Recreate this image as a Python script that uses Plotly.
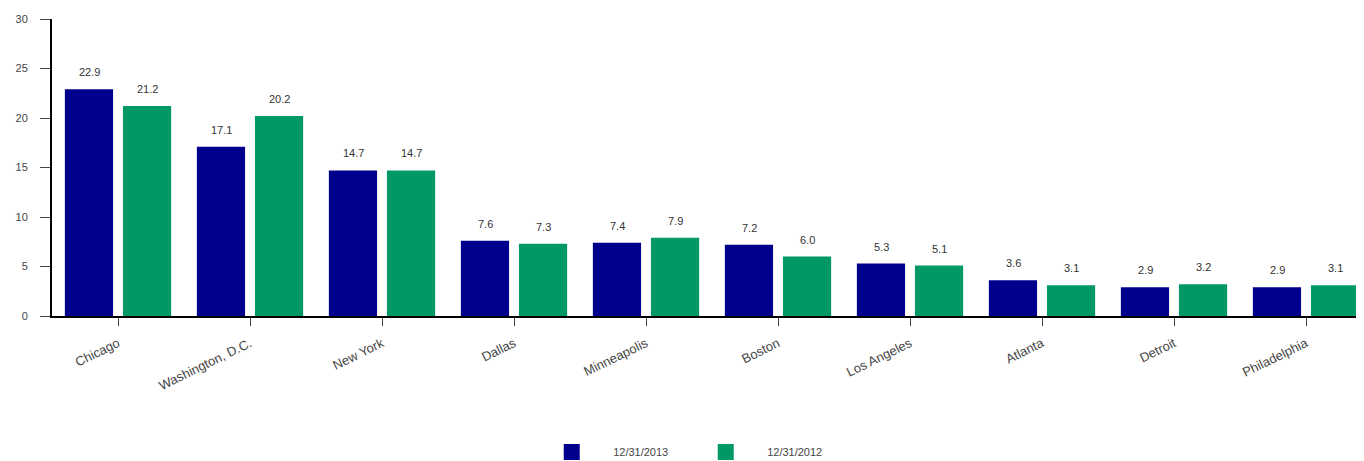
import plotly.graph_objects as go

cities = ["Chicago", "Washington, D.C.", "New York", "Dallas", "Minneapolis",
          "Boston", "Los Angeles", "Atlanta", "Detroit", "Philadelphia"]
v2013 = [22.9, 17.1, 14.7, 7.6, 7.4, 7.2, 5.3, 3.6, 2.9, 2.9]
v2012 = [21.2, 20.2, 14.7, 7.3, 7.9, 6.0, 5.1, 3.1, 3.2, 3.1]
series_names = ["12/31/2013", "12/31/2012"]
colors = ["#00008C", "#009966"]

fig = go.Figure()
for name, vals, col in zip(series_names, [v2013, v2012], colors):
    fig.add_trace(go.Bar(x=cities, y=vals, name=name, marker_color=col,
                         marker_line_width=0, showlegend=False))
    fig.add_trace(go.Scatter(x=[None], y=[None], mode="markers",
                             name="\u00a0" * 7 + name,
                             marker=dict(symbol="square", size=19, color=col)))

annotations = []
for vals, shift in [(v2013, -29), (v2012, 29)]:
    for c, v in zip(cities, vals):
        annotations.append(dict(x=c, y=v, text=f"{v:.1f}", showarrow=False,
                                xshift=shift, yshift=9, yanchor="bottom",
                                font=dict(size=11, color="#333333")))

fig.update_layout(
    width=1364, height=461,
    margin=dict(l=44, r=0, t=11, b=153),
    plot_bgcolor="white", paper_bgcolor="white",
    font=dict(family="Liberation Sans, Arial, sans-serif", size=11, color="#444444"),
    barmode="group", bargap=0.12, bargroupgap=0.17,
    annotations=annotations,
    legend=dict(orientation="h", x=0.3786, xanchor="left", y=-0.458, yanchor="middle",
                font=dict(size=11, color="#444444"), itemsizing="trace",
                itemwidth=30, tracegroupgap=0, traceorder="normal",
                entrywidth=109, entrywidthmode="pixels"),
    xaxis=dict(range=[-0.5, 9.5], showline=True, linecolor="black", linewidth=2,
               ticks="outside", ticklen=8, tickcolor="#444444", tickwidth=1,
               tickangle=-26, tickfont=dict(size=13, color="#444444"),
               ticklabelstandoff=5, automargin=False,
               showgrid=False, zeroline=False),
    yaxis=dict(range=[0, 30], dtick=5, showline=True, linecolor="black", linewidth=2,
               ticks="outside", ticklen=10, tickcolor="#444444", tickwidth=1,
               ticklabelstandoff=10, automargin=False,
               showgrid=False, zeroline=False, tickfont=dict(size=11, color="#444444")),
)

fig.write_html("out.html")
